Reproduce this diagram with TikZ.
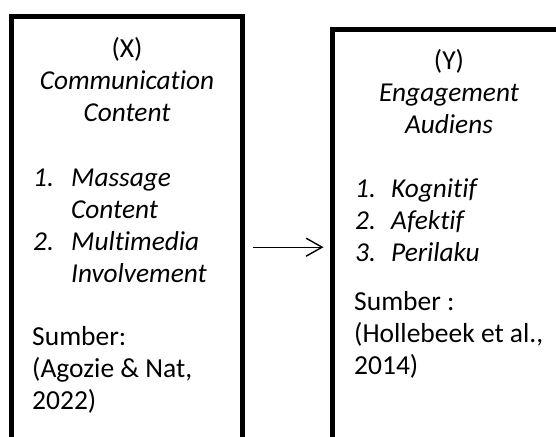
\documentclass[tikz,border=0pt]{standalone}
\usepackage{fontspec}
\setmainfont{Carlito}[Ligatures=NoCommon]
\usetikzlibrary{arrows.meta}
\begin{document}
\begin{tikzpicture}[x=1pt,y=-1pt,
  txt/.style={inner sep=0pt, font=\fontsize{27.5}{32}\selectfont},
  ctr/.style={txt, anchor=base},
  lft/.style={txt, anchor=base west},
  itl/.style={lft, font=\fontsize{27.3}{32}\selectfont\itshape},
  ctrit/.style={ctr, font=\fontsize{27.3}{32}\selectfont\itshape},
  boxshape/.style={inner sep=0pt, minimum width=#1, anchor=north west},
  boxline/.style={line width=5pt, line join=miter},
  conn/.style={line width=1.4pt, -{Straight Barb[length=16pt, width=18pt]}}]
\useasboundingbox (0,0) rectangle (556,436);
\clip (0,0) rectangle (556,436);
% boxes
\node[boxshape=230.5pt, minimum height=460pt] (L) at (11.5,17) {};
\node[boxshape=240pt, minimum height=434pt] (R) at (332.5,30) {};
\draw[boxline] (L.south west) -- (L.north west) -- (L.north east) -- (L.south east);
\draw[boxline] (R.south west) -- (R.north west) -- (R.north east) -- (R.south east);
% connector
\draw[conn] ([xshift=11pt]L.east) -- ([xshift=-9pt]R.west);
% left texts
\node[ctr] (x1) at (127,57) {(X)};
\node[ctrit] (x2) at (127,89) {Communication};
\node[ctrit] (x3) at (127,121) {Content};
\node[itl] (xn1) at (33,186) {1.};
\node[itl] (xi1) at (71,186) {Massage};
\node[itl] (xi1b) at (71,218) {Content};
\node[itl] (xn2) at (33,250) {2.};
\node[itl] (xi2) at (71,250) {Multimedia};
\node[itl] (xi2b) at (71,282) {Involvement};
\node[lft] (xs1) at (32,345) {Sumber:};
\node[lft] (xs2) at (32,377) {(Agozie \& Nat,};
\node[lft] (xs3) at (32,409) {2022)};
% right texts
\node[ctr] (y1) at (449,69) {(Y)};
\node[ctrit] (y2) at (449,101) {Engagement};
\node[ctrit] (y3) at (449,133) {Audiens};
\node[itl] (yn1) at (355,197) {1.};
\node[itl] (yi1) at (391,197) {Kognitif};
\node[itl] (yn2) at (355,229) {2.};
\node[itl] (yi2) at (391,229) {Afektif};
\node[itl] (yn3) at (355,261) {3.};
\node[itl] (yi3) at (391,261) {Perilaku};
\node[lft] (ys1) at (354,310) {Sumber :};
\node[lft] (ys2) at (354,342) {(Hollebeek et al.,};
\node[lft] (ys3) at (354,374) {2014)};
\end{tikzpicture}
\end{document}
